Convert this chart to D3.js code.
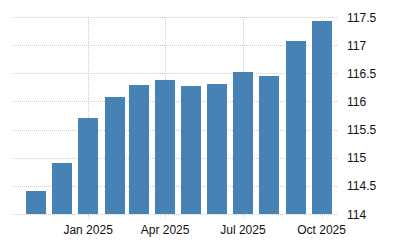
<!DOCTYPE html>
<html>
<head>
<meta charset="utf-8">
<script src="https://cdn.jsdelivr.net/npm/d3@7"></script>
<style>
  body { margin: 0; background: #fff; }
  svg text { font-family: "Liberation Sans", Arial, sans-serif; font-size: 12px; fill: #111; }
</style>
</head>
<body>
<svg id="chart" width="400" height="250"></svg>
<script>
// monthly index values, Nov 2024 - Oct 2025
var months = ['2024-11-01', '2024-12-01', '2025-01-01', '2025-02-01', '2025-03-01', '2025-04-01',
              '2025-05-01', '2025-06-01', '2025-07-01', '2025-08-01', '2025-09-01', '2025-10-01'];
var values = [114.41, 114.91, 115.71, 116.08, 116.29, 116.38,
              116.27, 116.31, 116.52, 116.45, 117.07, 117.43];
var yTicks = [114, 114.5, 115, 115.5, 116, 116.5, 117, 117.5];
var xTicks = ['2025-01-01', '2025-04-01', '2025-07-01', '2025-10-01'];

var parse = d3.utcParse('%Y-%m-%d');
var dates = months.map(parse);

var svg = d3.select('#chart');
var plotLeft = 12, plotRight = 337, plotTop = 17, plotBottom = 214;

var x = d3.scaleUtc()
    .domain([d3.utcDay.offset(dates[0], -28), d3.utcDay.offset(dates[dates.length - 1], 18)])
    .range([plotLeft, plotRight]);
var y = d3.scaleLinear().domain([114, 117.5]).range([plotBottom, plotTop]);

var grid = svg.append('g')
    .attr('stroke', '#ccc')
    .attr('stroke-width', 1)
    .attr('stroke-dasharray', '1,1');

grid.selectAll('.hgrid').data(yTicks).enter().append('line')
    .attr('x1', plotLeft).attr('x2', plotRight)
    .attr('y1', function(d) { return Math.round(y(d)) + 0.5; })
    .attr('y2', function(d) { return Math.round(y(d)) + 0.5; });

grid.selectAll('.vgrid').data(xTicks.map(parse)).enter().append('line')
    .attr('x1', function(d) { return Math.round(x(d)) + 0.5; })
    .attr('x2', function(d) { return Math.round(x(d)) + 0.5; })
    .attr('y1', plotTop).attr('y2', plotBottom + 4);

var barW = 20;
svg.append('g').selectAll('rect').data(values).enter().append('rect')
    .attr('x', function(d, i) { return Math.round(x(dates[i]) - barW / 2); })
    .attr('y', function(d) { return Math.round(y(d)); })
    .attr('width', barW)
    .attr('height', function(d) { return Math.round(y(114)) - Math.round(y(d)); })
    .attr('fill', '#4682b4');

svg.append('g').selectAll('text').data(yTicks).enter().append('text')
    .attr('x', 347)
    .attr('y', function(d) { return y(d) + 4.5; })
    .text(function(d) { return d3.format('')(d); });

svg.append('g').selectAll('text').data(xTicks.map(parse)).enter().append('text')
    .attr('x', function(d) { return x(d); })
    .attr('y', 234)
    .attr('text-anchor', 'middle')
    .text(d3.utcFormat('%b %Y'));
</script>
</body>
</html>
